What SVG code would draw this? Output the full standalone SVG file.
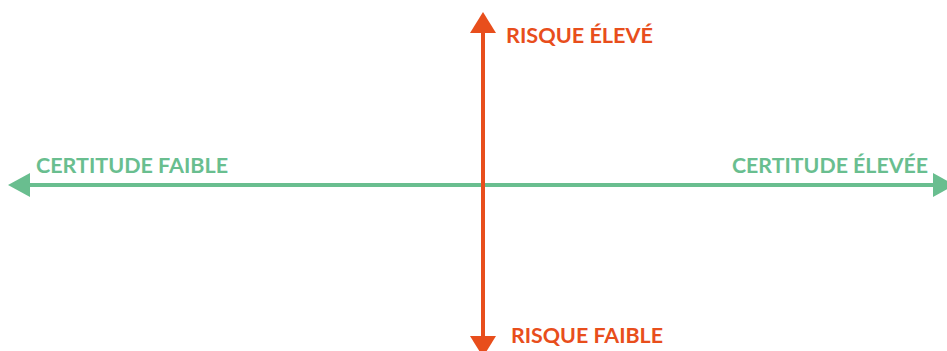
<svg xmlns="http://www.w3.org/2000/svg" width="947" height="351" viewBox="0 0 947 351">
<style>
.lbl{font-family:Lato,"Noto Sans","Liberation Sans",sans-serif;font-weight:700;font-size:21px}
.o{fill:#E84E1C}
.g{fill:#69BE8F}
</style>
<rect width="947" height="351" fill="#ffffff"/>
<g id="connectors">
<g id="x-axis">
<line x1="28" y1="185" x2="935" y2="185" stroke="#69BE8F" stroke-width="4"/>
<polygon points="8,185 30,173 30,197" fill="#69BE8F"/>
<polygon points="955,185 933,173 933,197" fill="#69BE8F"/>
</g>
<g id="y-axis">
<line x1="483" y1="30" x2="483" y2="340" stroke="#E84E1C" stroke-width="4"/>
<polygon points="483,12 470,33 496,33" fill="#E84E1C"/>
<polygon points="483,357 470,336 496,336" fill="#E84E1C"/>
</g>
</g>
<g id="risque-eleve"><text class="lbl o" x="506" y="43" textLength="147" lengthAdjust="spacingAndGlyphs">RISQUE ÉLEVÉ</text></g>
<g id="risque-faible"><text class="lbl o" x="511" y="343" textLength="152" lengthAdjust="spacingAndGlyphs">RISQUE FAIBLE</text></g>
<g id="certitude-faible"><text class="lbl g" x="36" y="172.5" textLength="192" lengthAdjust="spacingAndGlyphs">CERTITUDE FAIBLE</text></g>
<g id="certitude-elevee"><text class="lbl g" x="732" y="172.5" textLength="196" lengthAdjust="spacingAndGlyphs">CERTITUDE ÉLEVÉE</text></g>
</svg>
